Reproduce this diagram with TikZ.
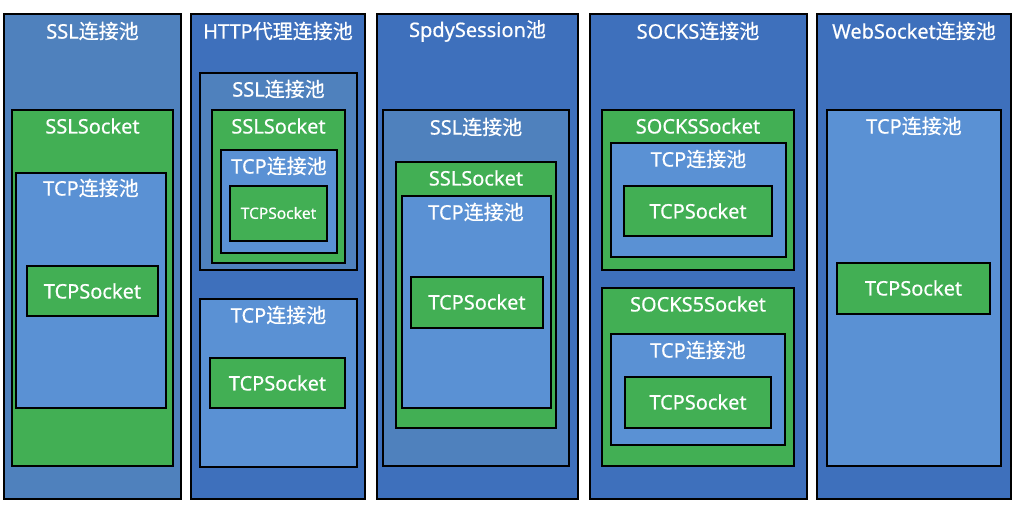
\documentclass[tikz,border=0pt]{standalone}
\usepackage{fontspec}
\setmainfont[FakeBold=0.5]{Noto Sans}
\newfontfamily\cjk[FakeBold=0.5]{Noto Sans CJK SC}
\definecolor{Pool}{RGB}{79,129,189}
\definecolor{Outer}{RGB}{62,112,188}
\definecolor{Tcp}{RGB}{90,145,212}
\definecolor{Sock}{RGB}{66,175,84}
\definecolor{Black}{RGB}{0,0,0}
\definecolor{White}{RGB}{255,255,255}
\newcommand{\lianjie}{{\cjk 连接池}}
\tikzset{
  frame/.style={draw=Black, line width=1.6pt},
  outerbox/.style={frame, fill=Outer},
  poolbox/.style={frame, fill=Pool},
  tcpbox/.style={frame, fill=Tcp},
  sockbox/.style={frame, fill=Sock},
  txt/.style={text=White, font=\fontsize{20}{23}\selectfont, inner sep=0pt},
  smalltxt/.style={text=White, font=\fontsize{15.5}{18}\selectfont, inner sep=0pt}
}
\begin{document}
\begin{tikzpicture}[x=1pt, y=-1pt]

		\useasboundingbox (0,0) rectangle (1020,510);
		\fill[White] (0,0) rectangle (1020,510);

		% SSL column
		\filldraw[poolbox] (4,14) rectangle (181,499);
		\filldraw[sockbox] (12,110) rectangle (173,466);
		\filldraw[tcpbox] (16,173) rectangle (166,408);
		\filldraw[sockbox] (27,266) rectangle (158,316);

		\node[txt] (ssltitle) at (92.5,31) {SSL\lianjie};
		\node[txt] (sslsock) at (92.5,126) {SSLSocket};
		\node[txt] (ssltcp) at (91,188) {TCP\lianjie};
		\node[txt] (ssltcpsock) at (92.5,291) {TCPSocket};

		% HTTP proxy column
		\filldraw[outerbox] (191,14) rectangle (365,499);
		\filldraw[poolbox] (200,73) rectangle (357,270);
		\filldraw[sockbox] (212,110) rectangle (345,263);
		\filldraw[tcpbox] (221,150) rectangle (337,253);
		\filldraw[sockbox] (230,186) rectangle (327,241);
		\filldraw[tcpbox] (200,299) rectangle (357,467);
		\filldraw[sockbox] (210,358) rectangle (345,408);

		\node[txt] (httptitle) at (278,31) {HTTP{\cjk 代理}\lianjie};
		\node[txt] (httpssl) at (278.5,89) {SSL\lianjie};
		\node[txt] (httpsslsock) at (278.5,126) {SSLSocket};
		\node[txt] (httptcpa) at (279,166) {TCP\lianjie};
		\node[smalltxt] (httpsocka) at (278.5,213) {TCPSocket};
		\node[txt] (httptcpb) at (278.5,315) {TCP\lianjie};
		\node[txt] (httpsockb) at (277.5,383) {TCPSocket};

		% SpdySession column
		\filldraw[outerbox] (377,14) rectangle (578,499);
		\filldraw[poolbox] (383,110) rectangle (569,466);
		\filldraw[sockbox] (396,162) rectangle (556,428);
		\filldraw[tcpbox] (402,196) rectangle (551,408);
		\filldraw[sockbox] (411,277) rectangle (543,328);

		\node[txt] (spdytitle) at (477.5,31) {SpdySession{\cjk 池}};
		\node[txt] (spdyssl) at (476,127) {SSL\lianjie};
		\node[txt] (spdysslsock) at (476,178) {SSLSocket};
		\node[txt] (spdytcp) at (476,212) {TCP\lianjie};
		\node[txt] (spdysock) at (477,302) {TCPSocket};

		% SOCKS column
		\filldraw[outerbox] (590,14) rectangle (807,499);
		\filldraw[sockbox] (602,110) rectangle (794,270);
		\filldraw[tcpbox] (611,143) rectangle (786,257);
		\filldraw[sockbox] (624,186) rectangle (772,236);
		\filldraw[sockbox] (602,288) rectangle (794,466);
		\filldraw[tcpbox] (611,334) rectangle (785,445);
		\filldraw[sockbox] (625,377) rectangle (771,428);

		\node[txt] (sockstitle) at (698,31) {SOCKS\lianjie};
		\node[txt] (socksa) at (698,126) {SOCKSSocket};
		\node[txt] (sockstcpa) at (698.5,159) {TCP\lianjie};
		\node[txt] (sockssocka) at (698,211) {TCPSocket};
		\node[txt] (socksb) at (698,304) {SOCKS5Socket};
		\node[txt] (sockstcpb) at (698,350) {TCP\lianjie};
		\node[txt] (sockssockb) at (698,402) {TCPSocket};

		% WebSocket column
		\filldraw[outerbox] (817,14) rectangle (1011,499);
		\filldraw[tcpbox] (827,110) rectangle (1001,466);
		\filldraw[sockbox] (837,263) rectangle (990,314);

		\node[txt] (wstitle) at (914,31) {WebSocket\lianjie};
		\node[txt] (wstcp) at (914,126) {TCP\lianjie};
		\node[txt] (wssock) at (913.5,288) {TCPSocket};

	\end{tikzpicture}
\end{document}
